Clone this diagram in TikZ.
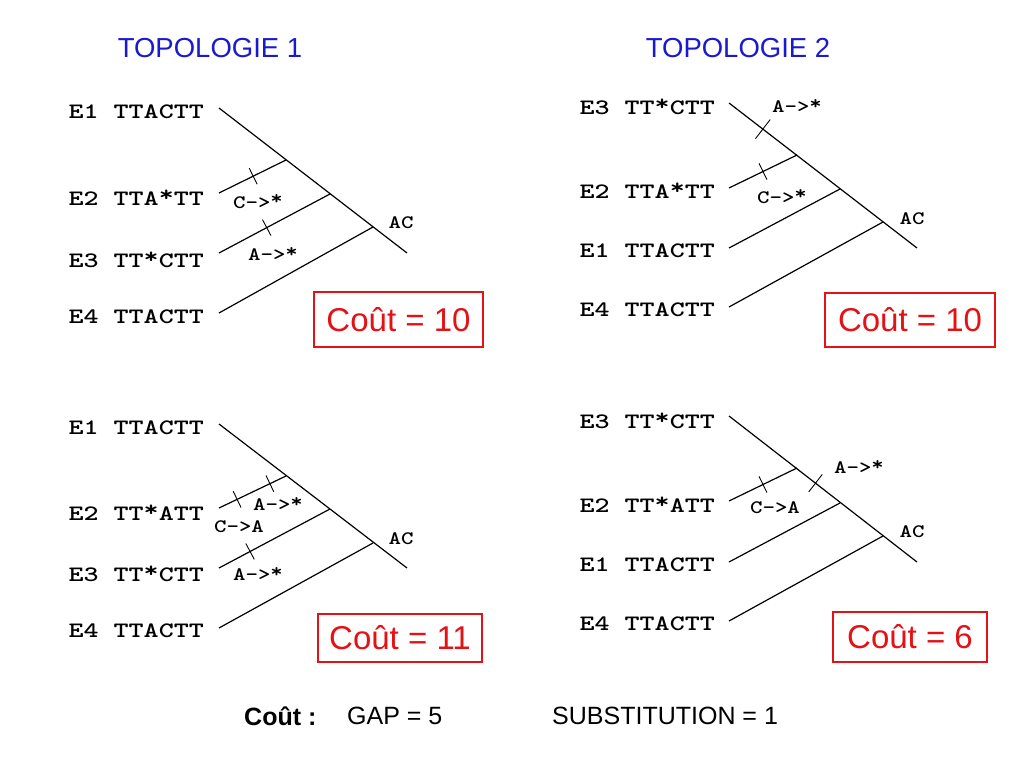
\documentclass[tikz,border=0pt]{standalone}
\usepackage{fontspec}
\usepackage{graphicx}
\setmainfont{Liberation Sans}
\usetikzlibrary{calc}
\definecolor{costred}{RGB}{228,18,22}
\definecolor{titleblue}{RGB}{26,26,204}
\newcommand\st{\raisebox{0.2em}{*}}
\newcommand\seqlbl[1]{\scalebox{1.3}[1]{\fontsize{22}{22}\selectfont\ttfamily\bfseries #1}}
\newcommand\mutlbl[1]{\scalebox{1.25}[1]{\fontsize{19}{19}\selectfont\ttfamily\bfseries #1}}
\newcommand\tickon[4]{\draw[tickmark] ($(#1)!#3!(#2)!#4pt!90:(#2)$) -- ($(#1)!#3!(#2)!#4pt!-90:(#2)$);}
\begin{document}
\begin{tikzpicture}[x=1pt,y=-1pt,
 seq/.style={anchor=east,inner sep=0pt},
 mut/.style={inner sep=0pt},
 branch/.style={line width=1.2pt},
 tickmark/.style={line width=0.9pt},
 cost/.style={draw=costred,line width=1.4pt,text=costred,font=\fontsize{33}{33}\selectfont,inner sep=0pt},
 title/.style={text=titleblue,font=\fontsize{27.5}{27.5}\selectfont,inner sep=0pt},
 legend/.style={font=\fontsize{25}{25}\selectfont,anchor=west,inner sep=0pt}]
\fill[white] (0,0) rectangle (1024,768);
\useasboundingbox (0,0) rectangle (1024,768);
% titles
\node[title] (t1) at (210,48) {TOPOLOGIE 1};
\node[title] (t2) at (738,48) {TOPOLOGIE 2};
% ---------- top left
\node[seq] (a1) at (204,112) {\seqlbl{E1 TTACTT}};
\node[seq] (a2) at (204,198) {\seqlbl{E2 TTA\st TT}};
\node[seq] (a3) at (204,260) {\seqlbl{E3 TT\st CTT}};
\node[seq] (a4) at (204,317) {\seqlbl{E4 TTACTT}};
\coordinate (a1l) at (219,108); \coordinate (ar) at (407,253);
\coordinate (a2l) at (219,193); \coordinate (a2j) at (286,160);
\coordinate (a3l) at (219,253); \coordinate (a3j) at (330,194);
\coordinate (a4l) at (219,313); \coordinate (a4j) at (373,227);
\draw[branch] (a1l) -- (ar);
\draw[branch] (a2l) -- (a2j);
\draw[branch] (a3l) -- (a3j);
\draw[branch] (a4l) -- (a4j);
\tickon{a2l}{a2j}{0.51}{9}
\tickon{a3l}{a3j}{0.43}{9}
\node[mut] (am1) at (258,202) {\mutlbl{C->\st}};
\node[mut] (am2) at (273,254) {\mutlbl{A->\st}};
\node[mut] (aac) at (401,223) {\mutlbl{AC}};
\node[cost,minimum width=169pt,minimum height=55pt] (ac) at (398.5,319.5) {Coût = 10};
% ---------- top right
\node[seq] (b1) at (715,107) {\seqlbl{E3 TT\st CTT}};
\node[seq] (b2) at (715,191) {\seqlbl{E2 TTA\st TT}};
\node[seq] (b3) at (715,251) {\seqlbl{E1 TTACTT}};
\node[seq] (b4) at (715,310) {\seqlbl{E4 TTACTT}};
\coordinate (b1l) at (729,103); \coordinate (br) at (917,248);
\coordinate (b2l) at (729,188); \coordinate (b2j) at (797,155);
\coordinate (b3l) at (729,248); \coordinate (b3j) at (840,189);
\coordinate (b4l) at (729,307); \coordinate (b4j) at (883,222);
\draw[branch] (b1l) -- (br);
\draw[branch] (b2l) -- (b2j);
\draw[branch] (b3l) -- (b3j);
\draw[branch] (b4l) -- (b4j);
\tickon{b1l}{br}{0.18}{12}
\tickon{b2l}{b2j}{0.5}{9}
\node[mut] (bm1) at (797,106) {\mutlbl{A->\st}};
\node[mut] (bm2) at (782,197) {\mutlbl{C->\st}};
\node[mut] (bac) at (912,219) {\mutlbl{AC}};
\node[cost,minimum width=170pt,minimum height=54pt] (bc) at (910,320) {Coût = 10};
% ---------- bottom left
\node[seq] (c1) at (204,428) {\seqlbl{E1 TTACTT}};
\node[seq] (c2) at (204,513) {\seqlbl{E2 TT\st ATT}};
\node[seq] (c3) at (204,574) {\seqlbl{E3 TT\st CTT}};
\node[seq] (c4) at (204,631) {\seqlbl{E4 TTACTT}};
\coordinate (c1l) at (219,424); \coordinate (cr) at (407,568);
\coordinate (c2l) at (219,508); \coordinate (c2j) at (286,476);
\coordinate (c3l) at (219,568); \coordinate (c3j) at (330,509);
\coordinate (c4l) at (219,628); \coordinate (c4j) at (373,543);
\draw[branch] (c1l) -- (cr);
\draw[branch] (c2l) -- (c2j);
\draw[branch] (c3l) -- (c3j);
\draw[branch] (c4l) -- (c4j);
\tickon{c2l}{c2j}{0.27}{9}
\tickon{c2l}{c2j}{0.76}{9}
\tickon{c3l}{c3j}{0.28}{9}
\node[mut] (cm1) at (278,504) {\mutlbl{A->\st}};
\node[mut] (cm2) at (239,527) {\mutlbl{C->A}};
\node[mut] (cm3) at (258,574) {\mutlbl{A->\st}};
\node[mut] (cac) at (401,539) {\mutlbl{AC}};
\node[cost,minimum width=164pt,minimum height=48pt] (cc) at (400,638) {Coût = 11};
% ---------- bottom right
\node[seq] (d1) at (715,421) {\seqlbl{E3 TT\st CTT}};
\node[seq] (d2) at (715,505) {\seqlbl{E2 TT\st ATT}};
\node[seq] (d3) at (715,565) {\seqlbl{E1 TTACTT}};
\node[seq] (d4) at (715,624) {\seqlbl{E4 TTACTT}};
\coordinate (d1l) at (729,416); \coordinate (dr) at (917,562);
\coordinate (d2l) at (729,501); \coordinate (d2j) at (797,468);
\coordinate (d3l) at (729,562); \coordinate (d3j) at (840,503);
\coordinate (d4l) at (729,621); \coordinate (d4j) at (883,536);
\draw[branch] (d1l) -- (dr);
\draw[branch] (d2l) -- (d2j);
\draw[branch] (d3l) -- (d3j);
\draw[branch] (d4l) -- (d4j);
\tickon{d2l}{d2j}{0.5}{9}
\tickon{d1l}{dr}{0.46}{11}
\node[mut] (dm1) at (859,467) {\mutlbl{A->\st}};
\node[mut] (dm2) at (775,508) {\mutlbl{C->A}};
\node[mut] (dac) at (912,532) {\mutlbl{AC}};
\node[cost,minimum width=154pt,minimum height=50pt] (dc) at (910,637) {Coût = 6};
% ---------- legend
\node[legend,font=\bfseries\fontsize{25}{25}\selectfont] (lc) at (244,716) {Coût :};
\node[legend] (lg) at (347,716) {GAP = 5};
\node[legend] (ls) at (552,716) {SUBSTITUTION = 1};
\end{tikzpicture}
\end{document}
